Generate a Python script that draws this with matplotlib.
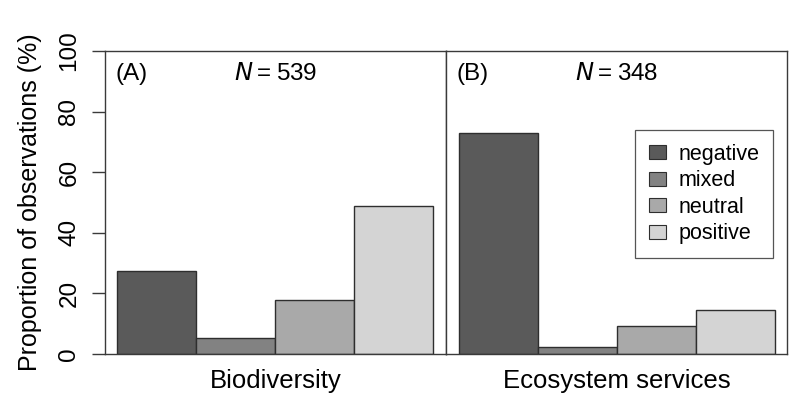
import matplotlib
matplotlib.use('Agg')
import matplotlib.pyplot as plt
import matplotlib.patches as mpatches
import numpy as np

# ── Data ──────────────────────────────────────────────────────────────────────
categories   = ['negative', 'mixed', 'neutral', 'positive']
biodiversity = [27.4, 5.1, 17.9, 48.8]
ecosystem    = [72.9, 2.2, 9.2, 14.6]
panels       = ['Biodiversity', 'Ecosystem services']
panel_tags   = ['(A)', '(B)']
sample_sizes = [539, 348]
yticks       = [0, 20, 40, 60, 80, 100]

COLORS = ['#5a5a5a', '#828282', '#a9a9a9', '#d4d4d4']
EDGE   = '#2e2e2e'
FRAME  = '#3a3a3a'

plt.rcParams.update({
    'font.family': ['Liberation Sans', 'DejaVu Sans'],
    'font.size': 17,
})

fig, axes = plt.subplots(1, 2, figsize=(8.0, 4.04), dpi=100, sharey=True)
fig.subplots_adjust(left=0.131, right=0.984, top=0.874, bottom=0.124, wspace=0)

x = np.arange(len(categories))
for ax, vals, name, tag, n in zip(axes, [biodiversity, ecosystem], panels,
                                  panel_tags, sample_sizes):
    ax.bar(x, vals, width=1.0, color=COLORS, edgecolor=EDGE, linewidth=1.0,
           zorder=2)
    ax.set_xlim(-0.66, 3.66)
    ax.set_ylim(0, 100)
    ax.set_xticks([])
    ax.set_xlabel(name, fontsize=18.5, labelpad=11)
    for sp in ax.spines.values():
        sp.set_color(FRAME)
        sp.set_linewidth(1.0)
    ax.text(0.03, 0.925, tag, transform=ax.transAxes, ha='left', va='center',
            fontsize=17.5)
    ax.text(0.5, 0.925, r'$\it{N}$' + '\u2009=\u2009%d' % n,
            transform=ax.transAxes, ha='center', va='center', fontsize=17.5)

axes[0].set_yticks(yticks)
axes[0].tick_params(axis='y', length=9.5, width=1.0, color=FRAME, pad=8,
                    labelsize=17.5, labelrotation=90)
for lbl in axes[0].get_yticklabels():
    lbl.set_va('center')
axes[1].tick_params(axis='y', left=False, labelleft=False)
axes[0].set_ylabel('Proportion of observations (%)', fontsize=18, labelpad=12)

handles = [mpatches.Patch(facecolor=c, edgecolor=EDGE, linewidth=0.8, label=l)
           for c, l in zip(COLORS, categories)]
leg = axes[1].legend(handles=handles, loc='upper right',
                     bbox_to_anchor=(0.959, 0.74), fontsize=15.5, frameon=True,
                     fancybox=False, edgecolor='#555555', framealpha=1.0,
                     handlelength=0.8, handleheight=0.6, handletextpad=0.55,
                     labelspacing=0.26, borderpad=0.65, borderaxespad=0)
leg.get_frame().set_linewidth(0.9)

plt.savefig('out.png', dpi=100)
